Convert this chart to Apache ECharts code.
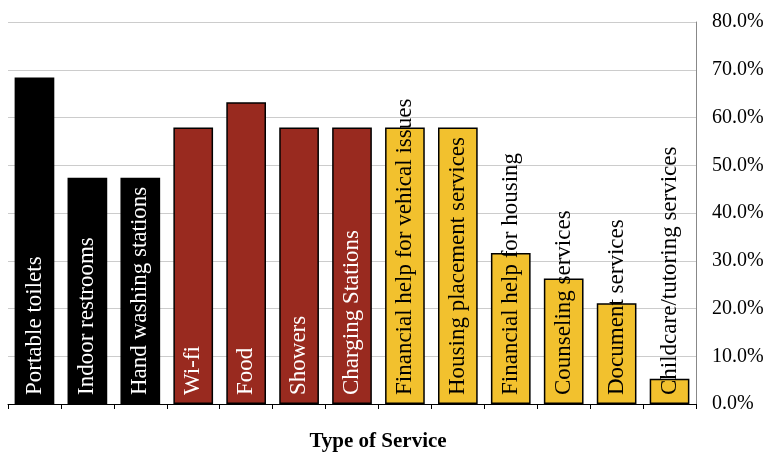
<html><head><meta name="viewport" content="width=device-width, initial-scale=1"><script src="https://cdn.jsdelivr.net/npm/echarts@6/dist/echarts.min.js"></script>
<style type="text/css">
        html { height: 100%; }
        body { height: 100%; margin: 0px; padding: 0px; background: #fff; }
    </style></head><body><div id="main" style="width: 769px;height:452px;"></div><script type="text/javascript">
        var categories = ['Portable toilets', 'Indoor restrooms', 'Hand washing stations', 'Wi-fi', 'Food', 'Showers',
            'Charging Stations', 'Financial help for vehical issues', 'Housing placement services',
            'Financial help for housing', 'Counseling services', 'Document services', 'Childcare/tutoring services'];
        var values = [0.684, 0.474, 0.474, 0.579, 0.632, 0.579, 0.579, 0.579, 0.579, 0.316, 0.263, 0.211, 0.053];
        var groups = [0, 0, 0, 1, 1, 1, 1, 2, 2, 2, 2, 2, 2];
        var yTicks = [0, 0.1, 0.2, 0.3, 0.4, 0.5, 0.6, 0.7, 0.8];

        var fill = ['#000000', '#992a1f', '#f2c12e'];
        var textCol = ['#ffffff', '#ffffff', '#000000'];
        var serif = '"Liberation Serif", "DejaVu Serif", serif';

        var myChart = echarts.init(document.getElementById('main'));
        var data = values.map(function (v, i) {
            return {
                value: v,
                itemStyle: { color: fill[groups[i]] },
                label: { color: textCol[groups[i]] }
            };
        });
        option = {
            animation: false,
            grid: { left: 8, right: 73, top: 22, bottom: 48, outerBoundsMode: 'none', containLabel: false },
            xAxis: {
                type: 'category',
                data: categories,
                name: 'Type of Service',
                nameLocation: 'middle',
                nameGap: 21,
                nameTextStyle: { fontFamily: serif, fontWeight: 'bold', fontSize: 21, color: '#000', padding: [0, 0, 0, 52] },
                axisLine: { lineStyle: { color: '#000', width: 1 } },
                axisTick: { show: true, interval: 0, length: 5, lineStyle: { color: '#000' } },
                axisLabel: { show: false, interval: 0 }
            },
            yAxis: {
                type: 'value',
                position: 'right',
                min: yTicks[0],
                max: yTicks[yTicks.length - 1],
                interval: 0.1,
                axisLine: { show: true, lineStyle: { color: '#888', width: 1 } },
                axisTick: { show: false },
                splitLine: { lineStyle: { color: '#cccccc', width: 1 } },
                axisLabel: {
                    margin: 16,
                    fontFamily: serif,
                    fontSize: 20,
                    color: '#000',
                    formatter: function (v) { return (v * 100).toFixed(1) + '%'; }
                }
            },
            series: [{
                type: 'bar',
                data: data,
                barCategoryGap: '25%',
                itemStyle: { borderColor: '#000', borderWidth: 1.5 },
                label: {
                    show: true,
                    position: 'insideBottom',
                    distance: 9,
                    rotate: 90,
                    align: 'left',
                    verticalAlign: 'middle',
                    fontFamily: serif,
                    fontSize: 23,
                    formatter: '{b}'
                }
            }]
        };
        myChart.setOption(option);
    </script></body></html>
